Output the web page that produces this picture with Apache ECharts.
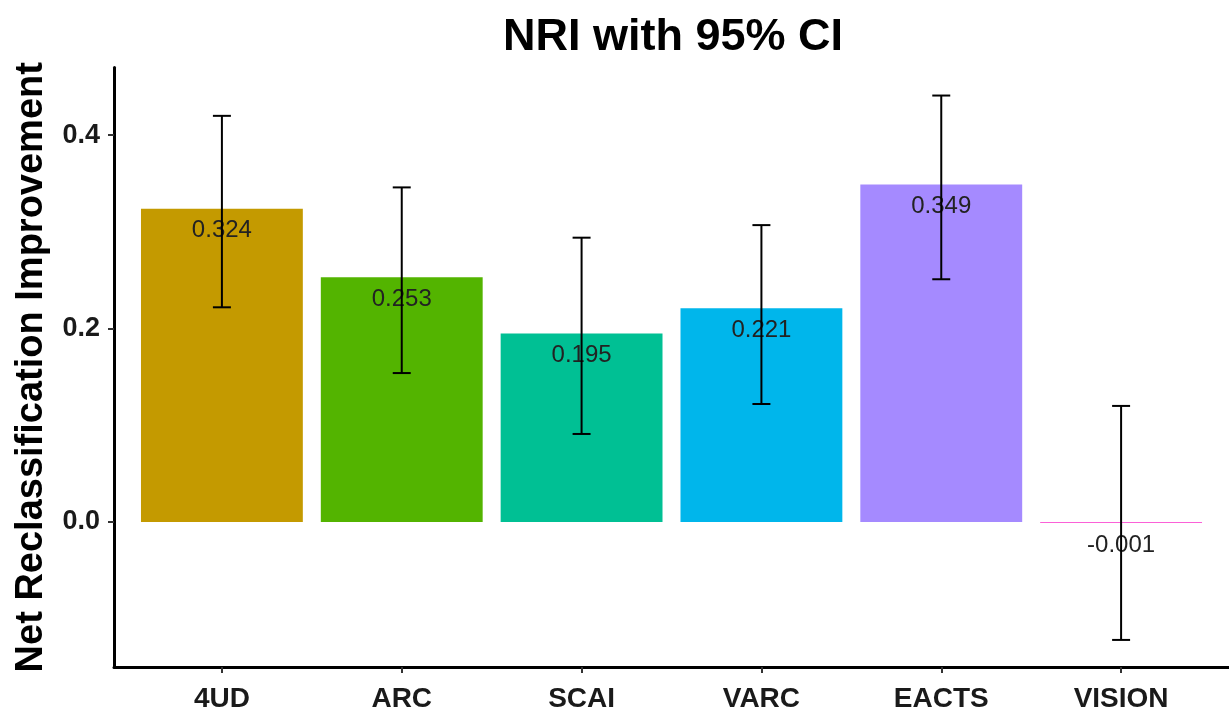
<!DOCTYPE html>
<html>
<head>
<meta charset="utf-8">
<script src="https://cdn.jsdelivr.net/npm/echarts@6/dist/echarts.min.js"></script>
<style>
  html, body { margin: 0; padding: 0; background: #ffffff; }
  #chart { width: 1229px; height: 713px; }
</style>
</head>
<body>
<div id="chart"></div>
<script>
const categories = ['4UD', 'ARC', 'SCAI', 'VARC', 'EACTS', 'VISION'];
const nri = [0.324, 0.253, 0.195, 0.221, 0.349, -0.001];
const ciLower = [0.222, 0.154, 0.091, 0.122, 0.251, -0.122];
const ciUpper = [0.420, 0.346, 0.294, 0.307, 0.441, 0.120];
const barColors = ['#C49A00', '#53B400', '#00C094', '#00B6EB', '#A58AFF', '#FB61D7'];
const yTicks = [0.0, 0.2, 0.4];
const xTicks = categories.map((c, i) => i);

const FONT = '"Liberation Sans", Arial, sans-serif';

const chart = echarts.init(document.getElementById('chart'), null, { renderer: 'canvas' });

const barData = categories.map((c, i) => [i, nri[i]]);
const ciData = categories.map((c, i) => [i, ciLower[i], ciUpper[i]]);
const labelData = categories.map((c, i) => [i, nri[i]]);

chart.setOption({
  backgroundColor: '#ffffff',
  animation: false,
  title: {
    text: 'NRI with 95% CI',
    left: 668,
    top: 10,
    textAlign: 'center',
    textStyle: { fontFamily: FONT, fontWeight: 'bold', fontSize: 45, color: '#000000' }
  },
  grid: { left: 114, top: 67.5, width: 1117, height: 600, containLabel: false },
  xAxis: {
    type: 'value',
    min: -0.6,
    max: 5.6,
    splitLine: { show: false },
    axisLine: { show: true, onZero: false, lineStyle: { color: '#000000', width: 3 } },
    axisTick: { show: true, length: 6, customValues: xTicks, lineStyle: { color: '#333333', width: 2 } },
    axisLabel: {
      customValues: xTicks,
      margin: 18,
      formatter: v => categories[Math.round(v)] || '',
      fontFamily: FONT, fontWeight: 'bold', fontSize: 28, color: '#1a1a1a'
    }
  },
  yAxis: {
    type: 'value',
    min: -0.15,
    max: 0.47,
    name: 'Net Reclassification Improvement',
    nameLocation: 'middle',
    nameGap: 63,
    nameTextStyle: { fontFamily: FONT, fontWeight: 'bold', fontSize: 38, color: '#000000' },
    splitLine: { show: false },
    axisLine: { show: true, onZero: false, lineStyle: { color: '#000000', width: 3 } },
    axisTick: { show: true, length: 6, customValues: yTicks, lineStyle: { color: '#333333', width: 2 } },
    axisLabel: {
      customValues: yTicks,
      margin: 14,
      padding: [8, 0, 0, 0],
      formatter: v => Number(v).toFixed(1),
      fontFamily: FONT, fontWeight: 'bold', fontSize: 27, color: '#1a1a1a'
    }
  },
  series: [
    {
      type: 'custom',
      name: 'bars',
      data: barData,
      clip: false,
      renderItem: function (params, api) {
        const i = api.value(0), v = api.value(1);
        const p0 = api.coord([i - 0.45, v]);
        const p1 = api.coord([i + 0.45, 0]);
        return {
          type: 'rect',
          shape: {
            x: p0[0], y: Math.min(p0[1], p1[1]),
            width: p1[0] - p0[0], height: Math.abs(p1[1] - p0[1])
          },
          style: { fill: barColors[i] }
        };
      }
    },
    {
      type: 'custom',
      name: 'labels',
      data: labelData,
      clip: false,
      z: 3,
      renderItem: function (params, api) {
        const i = api.value(0), v = api.value(1);
        const p = api.coord([i, v]);
        return {
          type: 'text',
          x: p[0],
          y: p[1] + 22,
          style: {
            text: v.toFixed(3),
            fill: '#222222',
            fontFamily: FONT,
            fontSize: 24,
            align: 'center',
            verticalAlign: 'middle'
          }
        };
      }
    },
    {
      type: 'custom',
      name: 'ci',
      data: ciData,
      clip: false,
      z: 4,
      renderItem: function (params, api) {
        const i = api.value(0), lo = api.value(1), hi = api.value(2);
        const a = api.coord([i, lo]);
        const b = api.coord([i, hi]);
        const l = api.coord([i - 0.05, lo]);
        const r = api.coord([i + 0.05, lo]);
        const style = { stroke: '#000000', lineWidth: 2 };
        return {
          type: 'group',
          children: [
            { type: 'line', shape: { x1: a[0], y1: a[1], x2: b[0], y2: b[1] }, style: style },
            { type: 'line', shape: { x1: l[0], y1: a[1], x2: r[0], y2: a[1] }, style: style },
            { type: 'line', shape: { x1: l[0], y1: b[1], x2: r[0], y2: b[1] }, style: style }
          ]
        };
      }
    }
  ]
});
</script>
</body>
</html>
